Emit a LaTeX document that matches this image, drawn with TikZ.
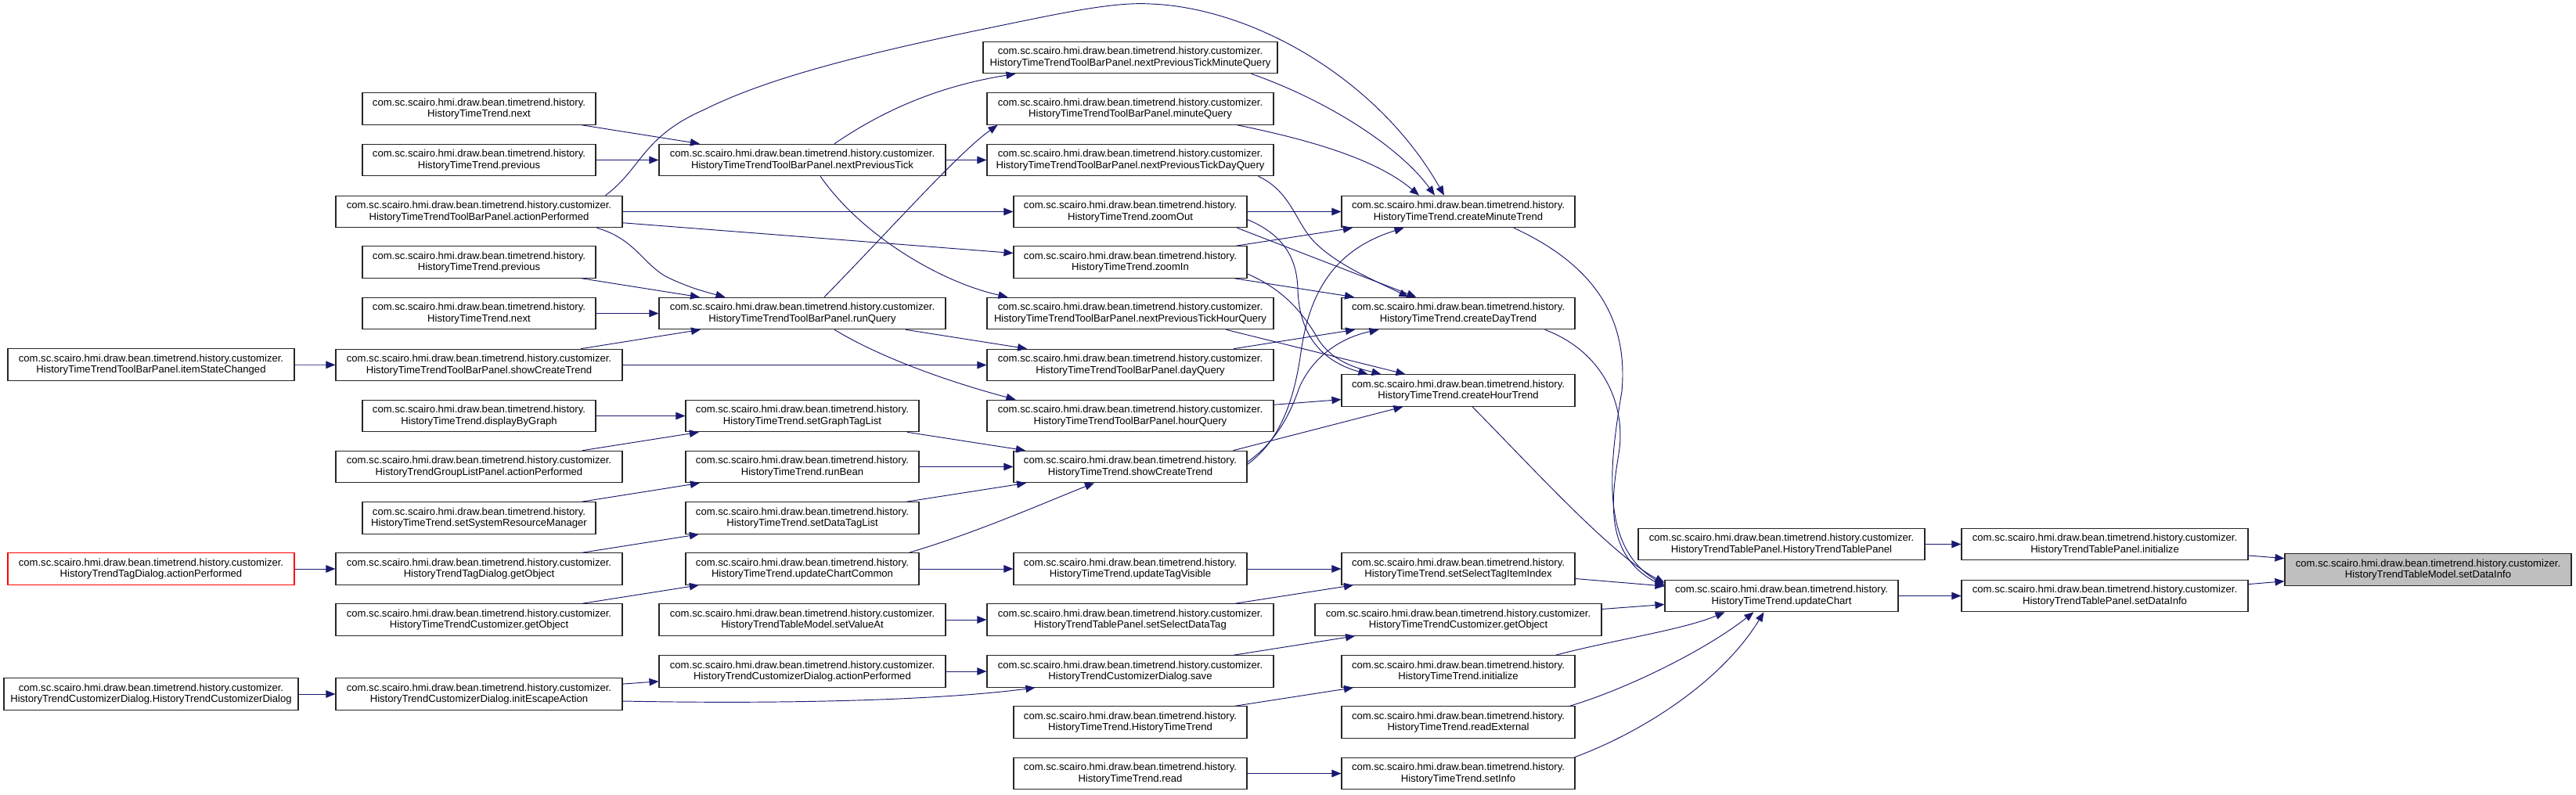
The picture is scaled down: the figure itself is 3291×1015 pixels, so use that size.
\documentclass[tikz,border=0pt]{standalone}
\usepackage{fontspec}
\setmainfont{Liberation Sans}
\usetikzlibrary{arrows.meta}
\definecolor{edgecol}{HTML}{191970}
\definecolor{rootfill}{HTML}{BFBFBF}
\newcommand\pkgH{com.sc.scairo.hmi.draw.bean.timetrend.history.}
\newcommand\pkgC{com.sc.scairo.hmi.draw.bean.timetrend.history.customizer.}
\begin{document}
\begin{tikzpicture}[x=1pt,y=-1pt,
 box/.style={draw=black!85, line width=1.1pt, fill=white, minimum height=40.5pt, inner sep=0pt, align=center, font={\fontsize{13.1}{14.7}\selectfont}},
 nw/.style={box, minimum width=298pt},
 ww/.style={box, minimum width=366pt},
 xw/.style={box, minimum width=376pt},
 call/.style={draw=edgecol, line width=0.95pt, -{Triangle[length=12pt,width=9.5pt]}},
]
\useasboundingbox (0,0) rectangle (3291,1015);

% column 0
\node[ww] (itemState) at (193,466) {\pkgC\\HistoryTimeTrendToolBarPanel.itemStateChanged};
\node[ww, draw=red] (tagAction) at (193,727) {\pkgC\\HistoryTrendTagDialog.actionPerformed};
\node[xw] (custDlgCtor) at (193,887) {\pkgC\\HistoryTrendCustomizerDialog.HistoryTrendCustomizerDialog};

% column 1
\node[nw] (next1) at (612,139) {\pkgH\\HistoryTimeTrend.next};
\node[nw] (prev1) at (612,204.5) {\pkgH\\HistoryTimeTrend.previous};
\node[ww] (tbAction) at (612,270.5) {\pkgC\\HistoryTimeTrendToolBarPanel.actionPerformed};
\node[nw] (prev2) at (612,335) {\pkgH\\HistoryTimeTrend.previous};
\node[nw] (next2) at (612,400.5) {\pkgH\\HistoryTimeTrend.next};
\node[ww] (tbShow) at (612,466.5) {\pkgC\\HistoryTimeTrendToolBarPanel.showCreateTrend};
\node[nw] (displayByGraph) at (612,531.5) {\pkgH\\HistoryTimeTrend.displayByGraph};
\node[ww] (groupAction) at (612,596.5) {\pkgC\\HistoryTrendGroupListPanel.actionPerformed};
\node[nw] (setSysRes) at (612,662) {\pkgH\\HistoryTimeTrend.setSystemResourceManager};
\node[ww] (tagGetObject) at (612,727) {\pkgC\\HistoryTrendTagDialog.getObject};
\node[ww] (custGetObjectA) at (612,792) {\pkgC\\HistoryTimeTrendCustomizer.getObject};
\node[ww] (initEscape) at (612,887) {\pkgC\\HistoryTrendCustomizerDialog.initEscapeAction};

% column 2
\node[ww] (nextPrevTick) at (1025,204.5) {\pkgC\\HistoryTimeTrendToolBarPanel.nextPreviousTick};
\node[ww] (runQuery) at (1025,400.5) {\pkgC\\HistoryTimeTrendToolBarPanel.runQuery};
\node[nw] (setGraphTagList) at (1025,531.5) {\pkgH\\HistoryTimeTrend.setGraphTagList};
\node[nw] (runBean) at (1025,596.5) {\pkgH\\HistoryTimeTrend.runBean};
\node[nw] (setDataTagList) at (1025,662) {\pkgH\\HistoryTimeTrend.setDataTagList};
\node[nw] (updateChartCommon) at (1025,727) {\pkgH\\HistoryTimeTrend.updateChartCommon};
\node[ww] (setValueAt) at (1025,792) {\pkgC\\HistoryTrendTableModel.setValueAt};
\node[ww] (dlgAction) at (1025,858) {\pkgC\\HistoryTrendCustomizerDialog.actionPerformed};

% column 3
\node[xw] (npMinute) at (1444,73.5) {\pkgC\\HistoryTimeTrendToolBarPanel.nextPreviousTickMinuteQuery};
\node[ww] (minuteQuery) at (1444,139) {\pkgC\\HistoryTimeTrendToolBarPanel.minuteQuery};
\node[ww] (npDay) at (1444,204.5) {\pkgC\\HistoryTimeTrendToolBarPanel.nextPreviousTickDayQuery};
\node[nw] (zoomOut) at (1444,270.5) {\pkgH\\HistoryTimeTrend.zoomOut};
\node[nw] (zoomIn) at (1444,335) {\pkgH\\HistoryTimeTrend.zoomIn};
\node[ww] (npHour) at (1444,400.5) {\pkgC\\HistoryTimeTrendToolBarPanel.nextPreviousTickHourQuery};
\node[ww] (dayQuery) at (1444,466.5) {\pkgC\\HistoryTimeTrendToolBarPanel.dayQuery};
\node[ww] (hourQuery) at (1444,531.5) {\pkgC\\HistoryTimeTrendToolBarPanel.hourQuery};
\node[nw] (showCreate) at (1444,596.5) {\pkgH\\HistoryTimeTrend.showCreateTrend};
\node[nw] (updateTagVisible) at (1444,727) {\pkgH\\HistoryTimeTrend.updateTagVisible};
\node[ww] (setSelectDataTag) at (1444,792) {\pkgC\\HistoryTrendTablePanel.setSelectDataTag};
\node[ww] (save) at (1444,858) {\pkgC\\HistoryTrendCustomizerDialog.save};
\node[nw] (ctor) at (1444,923) {\pkgH\\HistoryTimeTrend.HistoryTimeTrend};
\node[nw] (readN) at (1444,988.5) {\pkgH\\HistoryTimeTrend.read};

% column 4
\node[nw] (createMinute) at (1863,270.5) {\pkgH\\HistoryTimeTrend.createMinuteTrend};
\node[nw] (createDay) at (1863,400.5) {\pkgH\\HistoryTimeTrend.createDayTrend};
\node[nw] (createHour) at (1863,499) {\pkgH\\HistoryTimeTrend.createHourTrend};
\node[nw] (setSelectTagItemIndex) at (1863,727) {\pkgH\\HistoryTimeTrend.setSelectTagItemIndex};
\node[ww] (custGetObjectB) at (1863,792) {\pkgC\\HistoryTimeTrendCustomizer.getObject};
\node[nw] (initializeN) at (1863,858) {\pkgH\\HistoryTimeTrend.initialize};
\node[nw] (readExternal) at (1863,923) {\pkgH\\HistoryTimeTrend.readExternal};
\node[nw] (setInfo) at (1863,988.5) {\pkgH\\HistoryTimeTrend.setInfo};

% column 5
\node[ww] (tpCtor) at (2276,695.5) {\pkgC\\HistoryTrendTablePanel.HistoryTrendTablePanel};
\node[nw] (updateChart) at (2276,761.5) {\pkgH\\HistoryTimeTrend.updateChart};

% column 6
\node[ww] (tpInit) at (2689,695.5) {\pkgC\\HistoryTrendTablePanel.initialize};
\node[ww] (tpSetDataInfo) at (2689,761.5) {\pkgC\\HistoryTrendTablePanel.setDataInfo};

% root
\node[ww, fill=rootfill] (root) at (3102,728) {\pkgC\\HistoryTrendTableModel.setDataInfo};

% ---------- edges ----------
\draw[call] (itemState) -- (tbShow);
\draw[call] (tagAction) -- (tagGetObject);
\draw[call] (custDlgCtor) -- (initEscape);

\draw[call] (next1) -- (nextPrevTick);
\draw[call] (prev1) -- (nextPrevTick);
\draw[call] (tbAction) -- (zoomOut);
\draw[call] (tbAction) -- (zoomIn);
\draw[call] ([xshift=-33pt]tbAction.south east) .. controls (810,305) and (820,335) .. (850,353)
  .. controls (880,368) and (905,374) .. ([xshift=85pt]runQuery.north west);
\draw[call] ([xshift=-22pt]tbAction.north east) .. controls (820,215) and (820,175) .. (900,140)
  .. controls (980,100) and (1100,70) .. (1243,40)
  .. controls (1350,18) and (1420,2) .. (1470,5)
  .. controls (1600,10) and (1760,100) .. ([xshift=-18pt]createMinute.north);
\draw[call] (prev2) -- (runQuery);
\draw[call] (next2) -- (runQuery);
\draw[call] (tbShow) -- (runQuery);
\draw[call] (tbShow) -- (dayQuery);
\draw[call] (displayByGraph) -- (setGraphTagList);
\draw[call] (groupAction) -- (setGraphTagList);
\draw[call] (setSysRes) -- (runBean);
\draw[call] (tagGetObject) -- (setDataTagList);
\draw[call] (custGetObjectA) -- (updateChartCommon);
\draw[call] (initEscape) -- (dlgAction);
\draw[call] ([yshift=-9pt]initEscape.east) .. controls (1000,900) and (1200,895) .. ([xshift=62pt]save.south west);

\draw[call] (nextPrevTick) -- (npDay);
\draw[call] ([xshift=41pt]nextPrevTick.north) .. controls (1130,140) and (1200,110) .. ([xshift=42pt]npMinute.south west);
\draw[call] ([xshift=23pt]nextPrevTick.south) .. controls (1100,300) and (1200,360) .. ([xshift=27pt]npHour.north west);
\draw[call] ([xshift=28pt]runQuery.north) .. controls (1150,280) and (1225,195) .. ([xshift=14pt]minuteQuery.south west);
\draw[call] (runQuery) -- (dayQuery);
\draw[call] ([xshift=41pt]runQuery.south) .. controls (1130,460) and (1220,490) .. ([xshift=37pt]hourQuery.north west);
\draw[call] (setGraphTagList) -- (showCreate);
\draw[call] (runBean) -- (showCreate);
\draw[call] (setDataTagList) -- (showCreate);
\draw[call] ([xshift=-13pt]updateChartCommon.north east) .. controls (1250,680) and (1340,640) .. ([xshift=-46pt]showCreate.south);
\draw[call] (updateChartCommon) -- (updateTagVisible);
\draw[call] (setValueAt) -- (setSelectDataTag);
\draw[call] (dlgAction) -- (save);

% into createMinute
\draw[call] ([xshift=-34pt]npMinute.south east) .. controls (1700,130) and (1790,190) .. ([xshift=-30pt]createMinute.north);
\draw[call] ([xshift=-47pt]minuteQuery.south east) .. controls (1680,180) and (1760,205) .. ([xshift=-50pt]createMinute.north);
\draw[call] (zoomOut) -- (createMinute);
\draw[call] (zoomIn) -- (createMinute);
\draw[call] ([yshift=3pt]showCreate.east) .. controls (1640,560) and (1655,500) .. (1662,450)
  .. controls (1672,380) and (1700,320) .. ([xshift=80pt]createMinute.south west);
% into createDay
\draw[call] ([xshift=-20pt]npDay.south east) .. controls (1650,245) and (1655,285) .. (1680,310)
  .. controls (1710,340) and (1760,360) .. ([xshift=86pt]createDay.north west);
\draw[call] ([xshift=-13pt]zoomOut.south east) -- ([xshift=96pt]createDay.north west);
\draw[call] (zoomIn) -- (createDay);
\draw[call] (dayQuery) -- (createDay);
\draw[call] ([yshift=6pt]showCreate.east) .. controls (1630,565) and (1648,530) .. (1660,495)
  .. controls (1680,450) and (1720,430) .. ([xshift=48pt]createDay.south west);
% into createHour
\draw[call] ([yshift=-10pt]zoomOut.east) .. controls (1640,300) and (1657,330) .. (1658,370)
  .. controls (1660,430) and (1690,462) .. ([xshift=34pt]createHour.north west);
\draw[call] ([yshift=-15pt]zoomIn.east) .. controls (1640,370) and (1665,400) .. (1685,435)
  .. controls (1705,465) and (1740,472) .. ([xshift=51pt]createHour.north west);
\draw[call] ([xshift=-61pt]npHour.south east) -- ([xshift=82pt]createHour.north west);
\draw[call] (hourQuery) -- (createHour);
\draw[call] ([xshift=-18pt]showCreate.north east) -- ([xshift=79pt]createHour.south west);

\draw[call] (updateTagVisible) -- (setSelectTagItemIndex);
\draw[call] (setSelectDataTag) -- (setSelectTagItemIndex);
\draw[call] (save) -- (custGetObjectB);
\draw[call] (ctor) -- (initializeN);
\draw[call] (readN) -- (setInfo);

% into updateChart
\draw[call] ([xshift=71pt]createMinute.south) .. controls (2040,340) and (2080,410) .. (2072,500)
  .. controls (2055,600) and (2045,700) .. ([yshift=-7pt]updateChart.north west);
\draw[call] ([xshift=-39pt]createDay.south east) .. controls (2050,450) and (2078,520) .. (2068,580)
  .. controls (2058,640) and (2050,710) .. ([yshift=-9pt]updateChart.north west);
\draw[call] ([xshift=18pt]createHour.south) .. controls (1960,600) and (2060,710) .. ([yshift=-4pt]updateChart.north west);
\draw[call] (setSelectTagItemIndex) -- (updateChart);
\draw[call] (custGetObjectB) -- (updateChart);
\draw[call] ([xshift=-25pt]initializeN.north east) .. controls (2060,818) and (2150,805) .. ([xshift=77pt]updateChart.south west);
\draw[call] ([xshift=-7pt]readExternal.north east) .. controls (2080,880) and (2180,830) .. ([xshift=114pt]updateChart.south west);
\draw[call] ([xshift=-1pt]setInfo.north east) .. controls (2100,935) and (2200,870) .. ([xshift=127pt]updateChart.south west);

\draw[call] (tpCtor) -- (tpInit);
\draw[call] (updateChart) -- (tpSetDataInfo);
\draw[call] (tpInit) -- (root);
\draw[call] (tpSetDataInfo) -- (root);
\end{tikzpicture}
\end{document}
